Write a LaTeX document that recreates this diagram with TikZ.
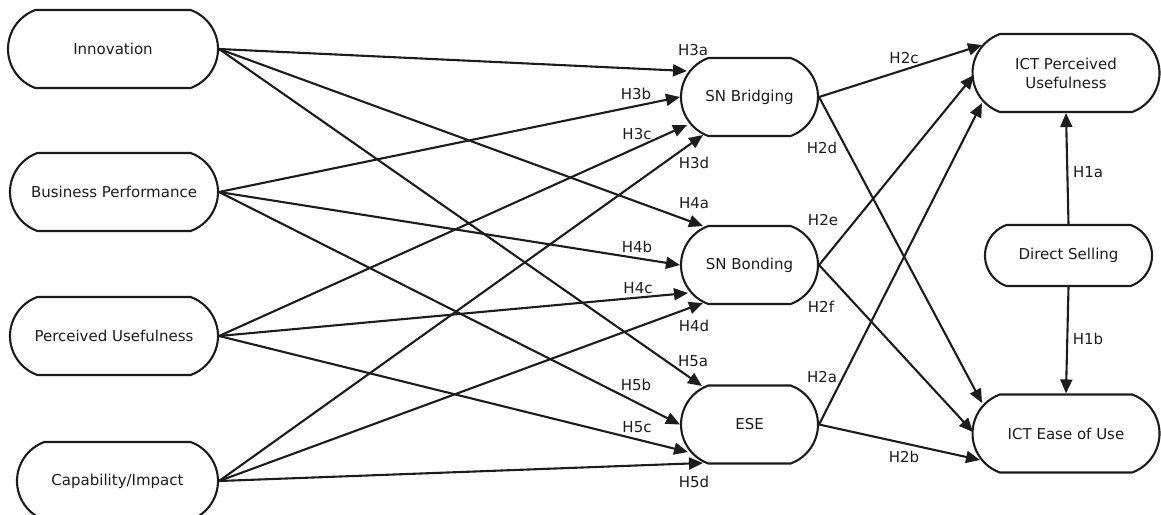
\documentclass[tikz,border=0pt]{standalone}
\usepackage{fontspec}
\setmainfont{DejaVu Sans}
\usetikzlibrary{shapes.misc,arrows.meta,calc}
\definecolor{ink}{RGB}{28,28,28}
\begin{document}
\begin{tikzpicture}[x=1pt,y=-1pt,
  box/.style={rounded rectangle, rounded rectangle arc length=140, draw=ink, line width=2.1pt,
    minimum height=78pt, inner sep=0pt, font=\fontsize{15}{19}\selectfont, text=ink, align=center},
  link/.style={draw=ink, line width=2.1pt, -{Triangle[length=14pt,width=12pt]}},
  lab/.style={font=\fontsize{15}{18}\selectfont, text=ink, inner sep=0pt}]
\useasboundingbox (0,0) rectangle (1161,514);
% nodes
\node[box, minimum width=210pt] (inn) at (113,49) {Innovation};
\node[box, minimum width=208pt] (bp) at (114,192) {Business Performance};
\node[box, minimum width=208pt] (pu) at (114,336) {Perceived Usefulness};
\node[box, minimum width=201pt] (cap) at (117.5,481) {Capability/Impact};
\node[box, minimum width=137pt] (sb) at (749.5,97) {SN Bridging};
\node[box, minimum width=137pt] (sbo) at (749.5,265) {SN Bonding};
\node[box, minimum width=137pt] (ese) at (749.5,424.5) {ESE};
\node[box, minimum width=187pt] (ictpu) at (1066,73) {ICT Perceived\\Usefulness};
\node[box, minimum width=167pt, minimum height=61pt] (ds) at (1068.5,255.5) {Direct Selling};
\node[box, minimum width=187pt] (icteu) at (1066,433.5) {ICT Ease of Use};
% left to middle
\draw[link] (inn.east) -- ($(sb)+(-62.5,-26)$);
\draw[link] (inn.east) -- ($(sbo)+(-46.5,-39)$);
\draw[link] (inn.east) -- ($(ese)+(-47.5,-38.5)$);
\draw[link] (bp.east) -- (sb.west);
\draw[link] (bp.east) -- (sbo.west);
\draw[link] (bp.east) -- (ese.west);
\draw[link] (pu.east) -- ($(sb)+(-62.5,28)$);
\draw[link] (pu.east) -- ($(sbo)+(-61.5,28)$);
\draw[link] (pu.east) -- ($(ese)+(-61.5,27.5)$);
\draw[link] (cap.east) -- ($(sb)+(-46.5,38)$);
\draw[link] (cap.east) -- ($(sbo)+(-46.5,38)$);
\draw[link] (cap.east) -- ($(ese)+(-46.5,38.5)$);
% middle to right
\draw[link] (sb.east) -- ($(ictpu)+(-84,-28)$);
\draw[link] (sb.east) -- ($(icteu)+(-84,-30.5)$);
\draw[link] (sbo.east) -- ($(ictpu)+(-92,2)$);
\draw[link] (sbo.east) -- ($(icteu)+(-93,-1.5)$);
\draw[link] (ese.east) -- ($(ictpu)+(-84,30)$);
\draw[link] (ese.east) -- ($(icteu)+(-86,26.5)$);
% direct selling
\draw[link] (ds.north) -- (ictpu.south);
\draw[link] (ds.south) -- (icteu.north);
% labels
\node[lab] (l3a) at (693,50) {H3a};
\node[lab] (l3b) at (636,94) {H3b};
\node[lab] (l3c) at (637,134) {H3c};
\node[lab] (l3d) at (694,163) {H3d};
\node[lab] (l4a) at (694,203) {H4a};
\node[lab] (l4b) at (637,247) {H4b};
\node[lab] (l4c) at (638,288) {H4c};
\node[lab] (l4d) at (694,326) {H4d};
\node[lab] (l5a) at (693,361) {H5a};
\node[lab] (l5b) at (636,385) {H5b};
\node[lab] (l5c) at (637,427) {H5c};
\node[lab] (l5d) at (694,482) {H5d};
\node[lab] (l2c) at (904,58) {H2c};
\node[lab] (l2d) at (822,148) {H2d};
\node[lab] (l2e) at (823,220) {H2e};
\node[lab] (l2f) at (821,307) {H2f};
\node[lab] (l2a) at (822,377) {H2a};
\node[lab] (l2b) at (904,457) {H2b};
\node[lab] (l1a) at (1088,172) {H1a};
\node[lab] (l1b) at (1088,339) {H1b};
\end{tikzpicture}
\end{document}
